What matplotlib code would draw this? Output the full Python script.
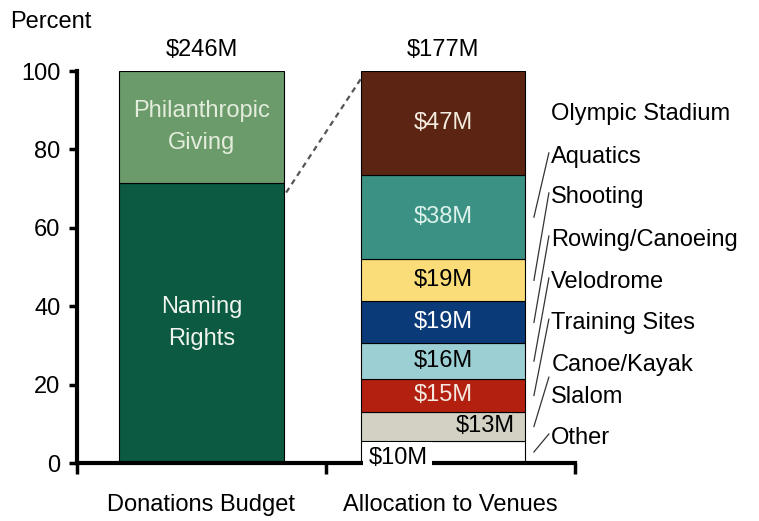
import matplotlib.pyplot as plt

plt.rcParams['font.family'] = ['Liberation Sans', 'DejaVu Sans']

# donations budget split (percent of $246M)
budget_total = '$246M'
budget_parts = ['Naming Rights', 'Philanthropic Giving']
budget_labels = ['Naming\nRights', 'Philanthropic\nGiving']
budget_pct = [71.5, 28.5]

# allocation to venues, $M, bottom to top
venues = ['Other', 'Canoe/Kayak Slalom', 'Training Sites', 'Velodrome',
          'Rowing/Canoeing', 'Shooting', 'Aquatics', 'Olympic Stadium']
venue_names = ['Other', 'Canoe/Kayak\nSlalom', 'Training Sites', 'Velodrome',
               'Rowing/Canoeing', 'Shooting', 'Aquatics', 'Olympic Stadium']
venue_musd = [10, 13, 15, 16, 19, 19, 38, 47]

categories = ['Donations Budget', 'Allocation to Venues']

budget_colors = ['#0b5a41', '#6b9b6b']
budget_text = ['#f0f4ee', '#e4ecdc']
venue_colors = ['#ffffff', '#d3d0c4', '#b4200f', '#9ccfd4',
                '#0b3a78', '#fadc78', '#3a9184', '#5c2412']
venue_text = ['black', 'black', '#f4e8e0', 'black',
              'white', 'black', '#dcf2ea', '#f4ece0']
# label heights on the right of the venue bar
name_y = [6.4, 20.9, 35.7, 46.2, 56.9, 67.9, 78.1, 89.0]

venue_total = sum(venue_musd)
venue_pct = [v / venue_total * 100 for v in venue_musd]

fig = plt.figure(figsize=(7.59, 5.21), dpi=100)
ax = fig.add_axes([0.1014, 0.1113, 0.6562, 0.7524])

x_pos = [0.5, 1.47]
w = 0.66

bottom = 0
for pct, col, lab, tc in zip(budget_pct, budget_colors, budget_labels, budget_text):
    ax.bar(x_pos[0], pct, w, bottom=bottom, color=col, edgecolor='black', linewidth=0.8)
    ax.text(x_pos[0], bottom + pct / 2, lab, ha='center', va='center', color=tc,
            fontsize=17, linespacing=1.6)
    bottom += pct

bottom = 0
left_edge = x_pos[1] + w / 2
for i, (pct, val, col, tc, name, ny) in enumerate(zip(venue_pct, venue_musd, venue_colors,
                                                      venue_text, venue_names, name_y)):
    ax.bar(x_pos[1], pct, w, bottom=bottom, color=col, edgecolor='black', linewidth=0.8)
    mid = bottom + pct / 2
    txt = f'${val}M'
    if i == 0:
        ax.text(x_pos[1] - w / 2 + 0.03, 1.4, txt, ha='left', va='center', fontsize=17,
                color='black', zorder=5, clip_on=False,
                bbox=dict(facecolor='white', edgecolor='none', pad=3.5))
    elif i == 1:
        ax.text(x_pos[1] + w / 2 - 0.04, mid, txt, ha='right', va='center',
                fontsize=17, color=tc)
    else:
        ax.text(x_pos[1], mid, txt, ha='center', va='center', fontsize=17, color=tc)
    ax.text(1.905, ny, name, ha='left', va='center', fontsize=17,
            linespacing=1.55, clip_on=False)
    if name != 'Olympic Stadium':
        ax.plot([left_edge + 0.035, 1.895], [mid, ny + 1], color='#333333',
                linewidth=0.9, clip_on=False)
    bottom += pct

# zoom line from naming rights to the venue bar
ax.plot([x_pos[0] + w / 2 + 0.01, x_pos[1] - w / 2], [69, 98], color='#555555',
        linewidth=1.6, linestyle=(0, (2.5, 2)), clip_on=False)

ax.text(x_pos[0], 102.5, budget_total, ha='center', va='bottom', fontsize=17)
ax.text(x_pos[1], 102.5, f'${venue_total}M', ha='center', va='bottom', fontsize=17)

for xc, cat in zip([0.5, 1.5], categories):
    ax.text(xc, -10.8, cat, ha='center', va='center', fontsize=17)

ax.text(-0.27, 112.5, 'Percent', ha='left', va='center', fontsize=17, clip_on=False)

ax.set_xlim(0, 2)
ax.set_ylim(0, 100)
ax.set_yticks([0, 20, 40, 60, 80, 100])
ax.set_xticks([0, 1, 2])
ax.set_xticklabels([])
ax.tick_params(axis='y', labelsize=17, width=2.5, length=6, direction='out', pad=6)
ax.tick_params(axis='x', width=2.5, length=8, direction='out')
for s in ['top', 'right']:
    ax.spines[s].set_visible(False)
for s in ['left', 'bottom']:
    ax.spines[s].set_linewidth(3)

fig.savefig('out.png', dpi=100)
